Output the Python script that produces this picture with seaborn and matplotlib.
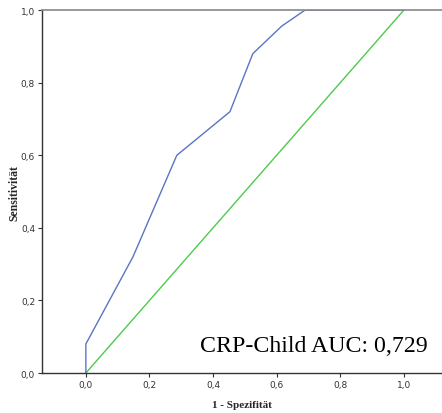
import pandas as pd
import seaborn as sns
import matplotlib.pyplot as plt
from matplotlib.ticker import FuncFormatter

# ROC points
fpr = [0.0, 0.0, 0.148, 0.286, 0.453, 0.525, 0.616, 0.689, 1.0]
tpr = [0.0, 0.08, 0.32, 0.60, 0.72, 0.88, 0.956, 1.0, 1.0]
ref_x = [0.0, 1.0]
ref_y = [0.0, 1.0]
auc_label = "CRP-Child AUC: 0,729"

roc = pd.DataFrame({'fpr': fpr, 'tpr': tpr})
ref = pd.DataFrame({'x': ref_x, 'y': ref_y})

sns.set_style('white')
plt.rcParams['font.family'] = ['DejaVu Sans']

fig = plt.figure(figsize=(4.42, 4.14), dpi=100)
ax = fig.add_axes([0.095, 0.0966, 0.905, 0.8765])

sns.lineplot(data=ref, x='x', y='y', sort=False, estimator=None,
             color='#4ccb4c', lw=1.0, ax=ax)
sns.lineplot(data=roc, x='fpr', y='tpr', sort=False, estimator=None,
             color='#5b74c4', lw=1.0, ax=ax)

ax.set_xlim(-0.138, 1.12)
ax.set_ylim(0, 1.0)
ax.set_xticks([0, 0.2, 0.4, 0.6, 0.8, 1.0])
ax.set_yticks([0, 0.2, 0.4, 0.6, 0.8, 1.0])
fmt = FuncFormatter(lambda v, p: f"{v:.1f}".replace('.', ','))
ax.xaxis.set_major_formatter(fmt)
ax.yaxis.set_major_formatter(fmt)
ax.tick_params(axis='both', direction='out', length=3, width=0.8, labelsize=6.5,
               colors='#333333', pad=2, bottom=True, left=True)

ax.spines['right'].set_visible(False)
ax.spines['top'].set_color('#888888')
ax.spines['top'].set_linewidth(1.2)
for s in ['left', 'bottom']:
    ax.spines[s].set_color('#333333')
    ax.spines[s].set_linewidth(1.0)

ax.set_xlabel('1 - Spezifität', family='Liberation Serif', fontweight='bold', fontsize=8)
ax.set_ylabel('Sensitivität', family='Liberation Serif', fontweight='bold', fontsize=8.5)
ax.xaxis.set_label_coords(0.5, -0.075)
ax.yaxis.set_label_coords(-0.055, 0.5)

ax.text(0.395, 0.06, auc_label, family='Liberation Serif', fontsize=17.2, color='black',
        transform=ax.transAxes, ha='left', va='baseline')

fig.savefig('out.png', dpi=100)
